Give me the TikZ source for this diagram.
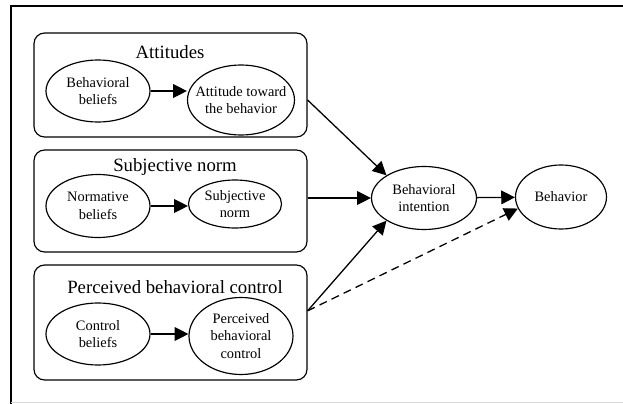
\documentclass[tikz,border=0pt]{standalone}
\usepackage{fontspec}
\setmainfont{Liberation Serif}
\usepackage{tikz}
\usetikzlibrary{positioning,arrows.meta,shapes.geometric,calc}

\begin{document}
\begin{tikzpicture}[
    group/.style={draw, line width=1pt, rounded corners=9pt, minimum width=8.19cm, inner sep=0pt},
    title/.style={font=\fontsize{16}{19}\selectfont, inner sep=1pt},
    oval/.style={ellipse, draw, line width=1pt, inner xsep=-8pt, inner ysep=0pt, align=center, font=\fontsize{12.3}{15}\selectfont},
    arrow/.style={-{Triangle[length=4.1mm, width=4.1mm]}, line width=1.1pt},
]
\useasboundingbox (0,0) rectangle (18.69,-12.12);

% outer frame
\draw[line width=1.3pt] (0.33,-12.2) |- (18.9,-0.18);
\draw[black!15] (0.33,-12.06) -- (18.9,-12.06);

% three groups
\node[group, minimum height=3.12cm] (att) at (5.115,-2.55) {};
\node[group, minimum height=3.06cm] (sn) at (5.115,-6.03) {};
\node[group, minimum height=3.45cm] (pbc) at (5.115,-9.675) {};

\node[title] (atttitle) at (5.1,-1.56) {Attitudes};
\node[title] (sntitle) at (5.25,-5.01) {Subjective norm};
\node[title] (pbctitle) at (5.25,-8.61) {Perceived behavioral control};

\node[oval, minimum width=3.12cm, minimum height=1.86cm] (bb) at (2.94,-2.73) {Behavioral\\beliefs};
\node[oval, minimum width=3.21cm, minimum height=2.1cm] (attb) at (7.23,-3.0) {Attitude toward\\the behavior};
\node[oval, minimum width=3.12cm, minimum height=1.89cm] (nb) at (2.94,-6.18) {Normative\\beliefs};
\node[oval, minimum width=2.79cm, minimum height=1.44cm] (snorm) at (7.05,-6.12) {Subjective\\norm};
\node[oval, minimum width=3.12cm, minimum height=1.86cm] (cb) at (2.94,-10.02) {Control\\beliefs};
\node[oval, minimum width=3.12cm, minimum height=2.31cm] (pbcv) at (7.23,-10.08) {Perceived\\behavioral\\control};

\node[oval, minimum width=3.15cm, minimum height=1.89cm] (bi) at (12.72,-5.94) {Behavioral\\intention};
\node[oval, minimum width=2.73cm, minimum height=1.92cm] (beh) at (16.83,-5.91) {Behavior};

% inside the groups
\draw[arrow] (bb.east) -- (bb.east -| attb.west);
\draw[arrow] (nb.east) -- (nb.east -| snorm.west);
\draw[arrow] (cb.east) -- (cb.east -| pbcv.west);

% to intention and behavior
\draw[arrow] (att.east |- attb) -- (bi.north west);
\draw[arrow] (sn.east |- bi) -- (bi.west);
\draw[arrow] ($(pbc.east)+(0,0.35)$) -- (bi.south west);
\draw[arrow, dash pattern=on 2.4mm off 1.6mm] ($(pbc.east)+(0,0.35)$) -- (beh.195);
\draw[arrow] (bi) -- (beh);

\end{tikzpicture}
\end{document}
